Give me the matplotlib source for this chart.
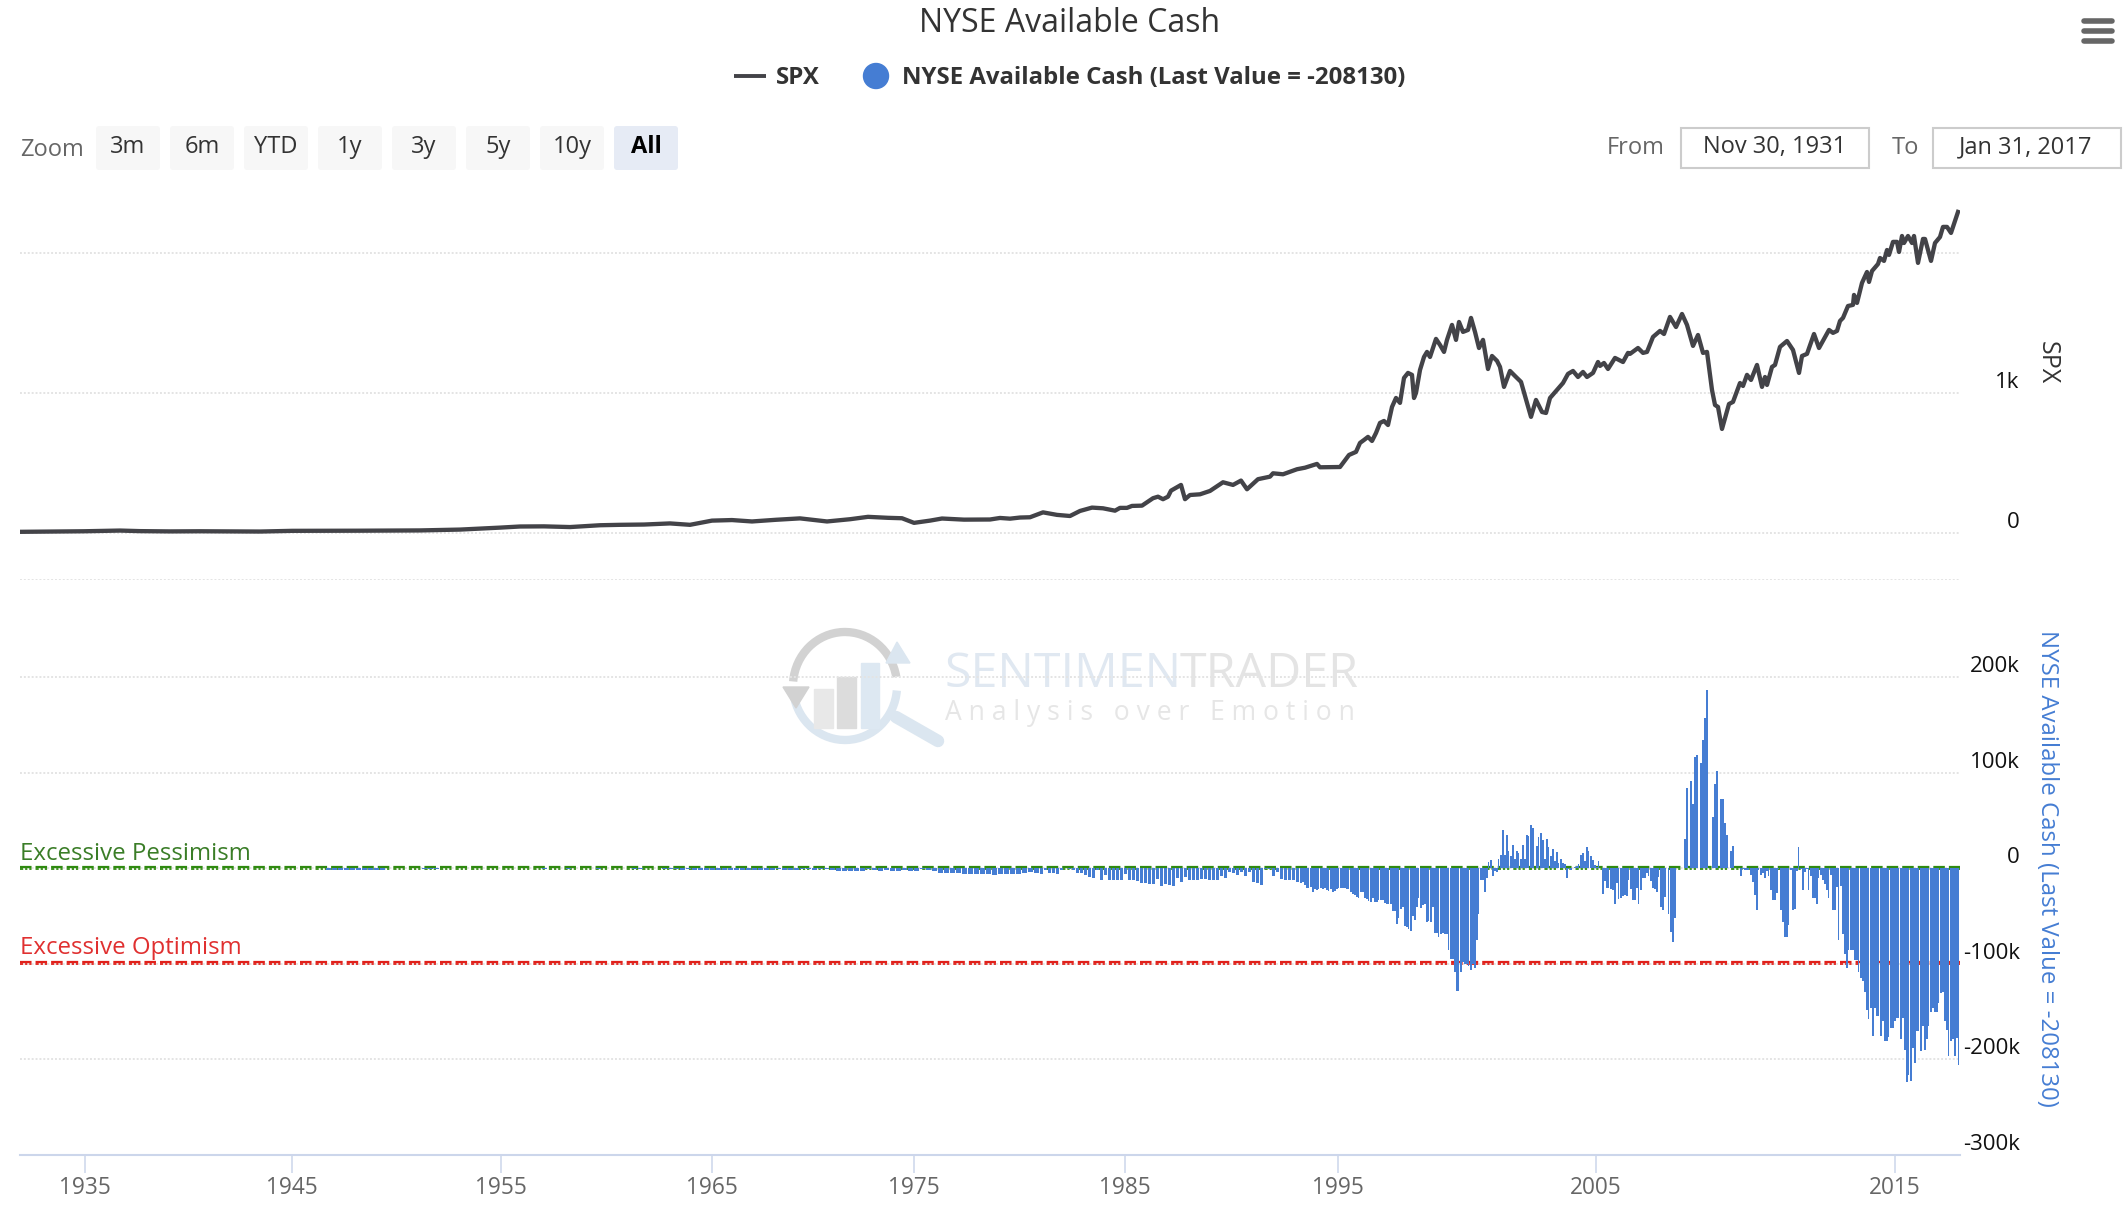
import numpy as np
import matplotlib
matplotlib.use("Agg")
from matplotlib import pyplot as plt
from matplotlib.patches import FancyBboxPatch, Rectangle, Circle, Arc, Polygon
from matplotlib.transforms import ScaledTranslation

W, H = 2126, 1208
plt.rcParams['font.family'] = ['Open Sans', 'DejaVu Sans']
plt.rcParams['lines.scale_dashes'] = False

# the x axis is ordinal (point number), not linear in time
tick_pos = [32.5, 136, 240.5, 346, 447, 552.5, 659, 788, 937.5]
tick_years = ['1935', '1945', '1955', '1965', '1975', '1985', '1995', '2005', '2015']

spx_pos = [0, 15, 32, 50, 60, 75, 90, 120, 136, 170, 200, 220, 240, 250, 262, 275, 290, 300, 312, 325,
           335, 346, 356, 366, 378, 390, 403.5, 415, 424, 434, 441, 447, 455, 461, 472, 485, 490, 495, 500, 505,
           511.5, 518.5, 525, 530, 536, 541.5, 547.5, 550, 553.5, 556, 561, 566.5, 569, 571.5, 574, 575.5,
           580.5, 582.5, 585, 590, 595, 601.5, 606.5, 610.5, 613.5, 619, 625, 626.5, 631.5, 638.5, 642.5, 648.5, 650,
           660, 664.5, 668, 670, 672, 674, 676, 678, 680, 682, 684, 686, 688, 690, 692, 694, 696, 697, 698, 700, 702,
           703.5, 705, 708, 710, 712, 713.5, 716, 718, 719.5, 721.5, 724, 725.5, 727.5, 729.5, 731.5, 734, 736, 738.5,
           740, 742, 745, 747.5, 750.5, 753.5, 755.5, 758, 761, 763, 765, 768.5, 771.5, 774, 776.5, 779, 781.5, 783.5,
           786.5, 789, 790, 792, 794, 797.5, 801.5, 804, 805, 809, 811.5, 813.5, 816.5, 820, 822, 825, 828, 831, 833.5,
           836.5, 839, 841.5, 843.5, 846, 847.5, 849, 851, 854.5, 856.5, 860, 861.5, 863.5, 865.5, 868.5, 871, 872.5,
           873.5, 876, 877.5, 880, 883.5, 886.5, 889.5, 891, 893.5, 897, 899.5, 904.5, 906.5, 908.5, 910, 911.5, 914,
           916.5, 917, 918.5, 921, 923.5, 924.5, 926, 929, 930, 932, 933.5, 934.5, 936.5, 938.5, 939.5, 941, 942, 944,
           946, 947, 949, 951.5, 952.5, 955.5, 957.5, 960, 961.5, 963.5, 965.5, 969]
spx = [8, 10, 12, 17, 13, 11, 12, 10, 15, 16, 18, 24, 38, 46, 47, 42, 55, 58, 60, 68,
       58, 88, 92, 82, 94, 104, 82, 98, 115, 108, 105, 72, 88, 103, 95, 96, 107, 102, 110, 112,
       147, 129, 121, 157, 181, 176, 159, 179, 179, 193, 195, 248, 259, 241, 259, 302,
       343, 241, 271, 276, 300, 362, 343, 374, 312, 384, 402, 426, 419, 455, 466, 493, 469,
       471, 557, 579, 643, 664, 686, 657, 714, 786, 800, 771, 900, 964, 929, 1107, 1143, 1129, 964, 1000, 1164, 1257,
       1293, 1257, 1386, 1343, 1293, 1379, 1486, 1379, 1507, 1436, 1450, 1536, 1436, 1321, 1379, 1171, 1264, 1229,
       1186, 1043, 1157, 1121, 1079, 929, 829, 950, 864, 857, 964, 1021, 1071, 1136, 1157, 1114, 1150, 1114,
       1143, 1221, 1193, 1214, 1171, 1250, 1221, 1286, 1279, 1321, 1286, 1293, 1400, 1443, 1421, 1543, 1471, 1564, 1486,
       1336, 1414, 1286, 1293, 1021, 914, 900, 743, 921, 936, 1071, 1050, 1129, 1093, 1200, 1043, 1114,
       1057, 1186, 1200, 1329, 1371, 1307, 1143, 1264, 1279, 1421, 1321, 1450, 1429, 1443, 1514, 1536, 1621,
       1629, 1700, 1643, 1786, 1864, 1793, 1871, 1921, 1964, 1943, 2021, 1986, 2079, 2079, 2007, 2121, 2071, 2121,
       2071, 2121, 1929, 2100, 2100, 1943, 2071, 2114, 2186, 2186, 2143, 2293]

# NYSE available cash, in thousands. Old data is tiny so it is read more coarsely.
cash_early_start, cash_early_step = 150, 3
cash_early = [0, -1.5, -1.6, -1.5, -1.4, -1.6, -1.5, -1.5, -1.6, -1.4, -1.5, 0, 0, 0, 0, 0, 0, -0.5, -1, -1,
              0, 0, 0, 0, 0, 0, 0, 0, 0, 0, 0, 0, 0, 0, 0, 0, 0, -0.3, 0, 0,
              0, -0.3, 0, 0, 0, 0, -0.3, 0, 0, 0, 0, 0, -0.3, -0.4, 0, 0, 0, -1, -1, -1,
              -1.2, -1, -1.7, -1.6, -1.7, -1.8, -1.5, -1.7, -1.6, -1.8, -1.7, -1.8, -1.5, -1.6, -1.5, -1.2, -0.6, -1.8, -1.7, -2,
              -1, -1, -1.2, -1, -1, -1.3, -3, -3.2, -3, -2.8, -3.1, -1, -2, -2.2, -2, -2.4, -2.2, -2, -2.3, -2.2,
              -1, -1.2, -3, -4.5, -5, -4.6, -5, -5.4, -6, -5.5, -6, -5.6, -6.5, -6, -5.8, -6.2, -5.5, -4.5, -4, -4.3]
cash_mid_start, cash_mid_step = 510, 2
cash_mid = [-6, -2, -5, -5, -6, -2, 0, -1, -2, -5, -5, -7, -9, -10, -2, -12, -7, -12, -12, -12, -12, -6,
            -12, -12, -13, -15, -15, -16, -16, -11, -18, -16, -17, -18, -10, -14, -9, -12, -12, -12, -11, -11, -12,
            -12, -12, -8, -10, -4, -5, -7, -4, -8, -4, -14, -15, -17, -1, -1, -8, -4, -11, -12, -12, -12, -14]
cash_late_start = 640
cash_late = [-15, -14, -17, -20, -20, -19, -25, -22, -23, -22, -21, -22, -20, -23, -24, -22, -25, -24, -22, -21,
             -20, -21, -21, -22, -22, -25, -27, -28, -30, -31, -25, -25, -31, -32, -34, -35, -31, -35, -35, -33,
             -33, -33, -36, -37, -37, -37, -45, -45, -58, -52, -42, -40, -60, -61, -63, -66, -50, -54, -40, -31,
             -41, -38, -37, -56, -55, -56, -40, -68, -68, -72, -69, -68, -69, -69, -85, -95, -95, -108, -128, -128,
             -108, -98, -100, -100, -102, -106, -100, -104, -75, -48, -12, -12, -25, -10, 7, 9, -8, -3, -4, 10,
             14, 40, 14, 35, 18, 13, 25, 10, 18, 16, 10, 25, 10, 35, 34, 45, 42, 0, 23, 33,
             37, 30, 10, 31, 22, 13, 20, 8, 17, 6, 10, 6, 5, -10, -1, -2, 0, 1, 3, 5,
             14, 16, 8, 22, 18, 13, 9, 4, 2, 8, 0, -27, -13, -20, -21, -22, -23, -37, -15, -32,
             -31, -29, -28, -29, -12, -22, -33, -33, -20, -37, -23, -10, -10, -5, -8, -13, -20, -22, -25, -9,
             -40, -43, -30, 0, -48, -67, -77, -52, 0, 0, 0, 0,
             31, 84, 0, 92, 67, 117, 119, 0, 110, 134, 157, 187, 0, 0, 54, 88, 102, 0, 73, 73,
             48, 35, 0, 18, 23, 0, 0, 0,
             -8, -1, -2, -2, -2, -7, -14, -28, -43, -2, -7, -5, -10, -3, -8, -23, -33, -33, -26, -1,
             -43, -56, -72, -72, -59, -2, -44, -42, -3, 22, -1, -23, -4, -1, -23, -8, -31, -31, -37, -10,
             -7, -12, -16, -23, -31, -7, -43, -43, -19, -75, -18, -69, -90, -104, -85, -85, -85, -96, -96, -108,
             -115, -118, -129, -148, -158, -146, -175, -146, -155, -155, -175, -160, -181, -181, -176, -167, -167, -160, -157, -157,
             -179, -157, -190, -224, -216, -223, -188, -204, -170, -170, -191, -165, -190, -179, -165, -150, -146, -150, -150, -141,
             -130, -129, -160, -169, -196, -181, -179, -196, -177, -206]

spx_ticks = [0, 1000, 2000]
spx_tick_labels = ['0', '1k', '']
cash_ticks = [-300, -200, -100, 0, 100, 200, 303]
cash_tick_labels = ['-300k', '-200k', '-100k', '0', '100k', '200k', '']
pessimism_level = 0
optimism_level = -100

zoom_buttons = ['3m', '6m', 'YTD', '1y', '3y', '5y', '10y', 'All']
zoom_lefts = [96, 170, 244, 318, 392, 466, 540, 614]

BLUE = '#457dd3'
DARK = '#434348'
GRID = '#e4e4e4'
AXIS = '#ccd6eb'
PLOT_L, PLOT_R = 20, 1960


def px_axes(left, top, right, bottom):
    ax = fig.add_axes([left / W, 1 - bottom / H, (right - left) / W, (bottom - top) / H])
    ax.patch.set_alpha(0)
    for s in ax.spines.values():
        s.set_visible(False)
    return ax


def style_y(ax, ticks, labels):
    ax.set_yticks(ticks)
    ax.set_yticklabels(labels)
    ax.yaxis.tick_right()
    ax.tick_params(axis='y', length=0, pad=43, labelsize=16, labelcolor='#111111')
    shift = ScaledTranslation(0, 13 / 100, fig.dpi_scale_trans)
    for lab in ax.get_yticklabels():
        lab.set_ha('right')
        lab.set_transform(lab.get_transform() + shift)
    ax.grid(axis='y', color=GRID, lw=1.4, linestyle=(0, (1.4, 1.4)))
    ax.set_axisbelow(True)


def comb_line(ax, level, color):
    # the threshold lines look like little combs: a dash with two legs under it
    ax.axhline(level + 1.6, color=color, lw=1.6, linestyle=(0, (8.3, 2.9)), zorder=1)
    ax.axhline(level - 0.4, color=color, lw=1.3, linestyle=(0, (2.3, 1.4, 1.6, 1.4, 1.6, 2.9)), zorder=1)


fig = plt.figure(figsize=(W / 100, H / 100), dpi=100)
fig.patch.set_facecolor('white')

# page chrome and watermark, in pixel coordinates
bg = fig.add_axes([0, 0, 1, 1])
bg.set_xlim(0, W)
bg.set_ylim(H, 0)
bg.axis('off')

# watermark logo
bg.add_patch(Arc((845, 686), 104, 108, theta1=185, theta2=350, color='#d2d2d2', lw=6))
bg.add_patch(Arc((845, 686), 104, 108, theta1=5, theta2=170, color='#dbe6f0', lw=6))
bg.add_patch(Polygon([[783, 687], [809, 687], [796, 708]], color='#d2d2d2'))
bg.add_patch(Polygon([[886, 663], [910, 663], [897, 642]], color='#dbe6f0'))
bg.plot([896, 938], [717, 741], color='#dbe6f0', lw=9, solid_capstyle='round')
bg.add_patch(Rectangle((814, 689), 19, 39, color='#e8e8e8'))
bg.add_patch(Rectangle((837, 677), 19, 51, color='#dcdcdc'))
bg.add_patch(Rectangle((861, 663), 18, 65, color='#dde8f2'))
bg.text(945, 687, 'SENTIMEN', fontsize=34.8, color='#e0e8f1', va='baseline')
bg.text(1180, 687, 'TRADER', fontsize=34.8, color='#e4e4e4', va='baseline')
bg.text(945, 720, 'A n a l y s i s   o v e r   E m o t i o n', fontsize=19.1, color='#e6e6e6', va='baseline')

bg.text(1070, 23, 'NYSE Available Cash', fontsize=23, color='#333333', ha='center', va='center')
bg.plot([734, 766], [76, 76], color=DARK, lw=2.8, solid_capstyle='butt')
bg.text(776, 78, 'SPX', fontsize=17.3, fontweight='bold', color='#333333', va='center')
bg.add_patch(Circle((876, 76), 12.5, color=BLUE))
bg.text(902, 78, 'NYSE Available Cash (Last Value = -208130)', fontsize=17.3, fontweight='bold',
        color='#333333', va='center')

bg.text(20, 150, 'Zoom', fontsize=17, color='#666666', va='center')
for name, left in zip(zoom_buttons, zoom_lefts):
    active = name == 'All'
    bg.add_patch(FancyBboxPatch((left + 3, 129), 58, 38, boxstyle='round,pad=3', lw=0,
                                facecolor='#e6ebf5' if active else '#f7f7f7'))
    bg.text(left + 32, 147, name, fontsize=17, ha='center', va='center', color='black' if active else '#333333',
            fontweight='bold' if active else 'normal')

bg.text(1607, 148, 'From', fontsize=17, color='#666666', va='center')
bg.add_patch(Rectangle((1681, 128), 188, 40, facecolor='white', edgecolor='#cccccc', lw=1.5))
bg.text(1775, 147, 'Nov 30, 1931', fontsize=17, color='#333333', ha='center', va='center')
bg.text(1892, 148, 'To', fontsize=17, color='#666666', va='center')
bg.add_patch(Rectangle((1933, 128), 188, 40, facecolor='white', edgecolor='#cccccc', lw=1.5))
bg.text(2026, 147, 'Jan 31, 2017', fontsize=17, color='#333333', ha='center', va='center')
for y in [21, 31, 41]:
    bg.plot([2084, 2112], [y, y], color='#666666', lw=4, solid_capstyle='round')

# SPX panel: 0 at y=533, 140 px per 1k
ax1 = px_axes(PLOT_L, 180, PLOT_R, 579)
ax1.plot(spx_pos, spx, color=DARK, lw=3.1, solid_joinstyle='round', zorder=3)
ax1.set_xlim(0, 970)
ax1.set_ylim(-329, 2521)
ax1.set_xticks([])
style_y(ax1, spx_ticks, spx_tick_labels)

# cash panel
ax2 = px_axes(PLOT_L, 579, PLOT_R, 1155)
comb_line(ax2, pessimism_level, '#2f8a10')
comb_line(ax2, optimism_level, '#e0201a')
early_x = cash_early_start + cash_early_step * np.arange(len(cash_early))
mid_x = cash_mid_start + cash_mid_step * np.arange(len(cash_mid))
late_x = cash_late_start + np.arange(len(cash_late))
# every fifth late bar is narrower, the original shows thin white slits at that rhythm
late_w = np.where(np.arange(len(cash_late)) % 5 == 4, 0.5, 1.0)
ax2.bar(early_x, cash_early, width=2.3, color=BLUE, lw=0, align='edge', zorder=2)
ax2.bar(mid_x, cash_mid, width=1.7, color=BLUE, lw=0, align='edge', zorder=2)
ax2.bar(late_x, cash_late, width=late_w, color=BLUE, lw=0, align='edge', zorder=2)
ax2.set_xlim(0, 970)
ax2.set_ylim(-300, 302.1)
style_y(ax2, cash_ticks, cash_tick_labels)
ax2.set_xticks(tick_pos)
ax2.set_xticklabels(tick_years)
ax2.tick_params(axis='x', length=13, width=1.1, color=AXIS, labelsize=16.3, labelcolor='#666666', pad=2)
ax2.spines['bottom'].set_visible(True)
ax2.spines['bottom'].set_color(AXIS)
ax2.spines['bottom'].set_linewidth(1.5)

ax2.text(0, 9, 'Excessive Pessimism', fontsize=17.3, color='#3a7d27', va='baseline')
ax2.text(0, -90, 'Excessive Optimism', fontsize=17.3, color='#e03030', va='baseline')

fig.text(2047 / W, 1 - 363 / H, 'SPX', rotation=270, fontsize=18, color='#333333', ha='center', va='center')
fig.text(2047 / W, 1 - 868 / H, 'NYSE Available Cash (Last Value = -208130)', rotation=270, fontsize=17.3, color=BLUE,
         ha='center', va='center')

fig.savefig('out.png', dpi=100)
